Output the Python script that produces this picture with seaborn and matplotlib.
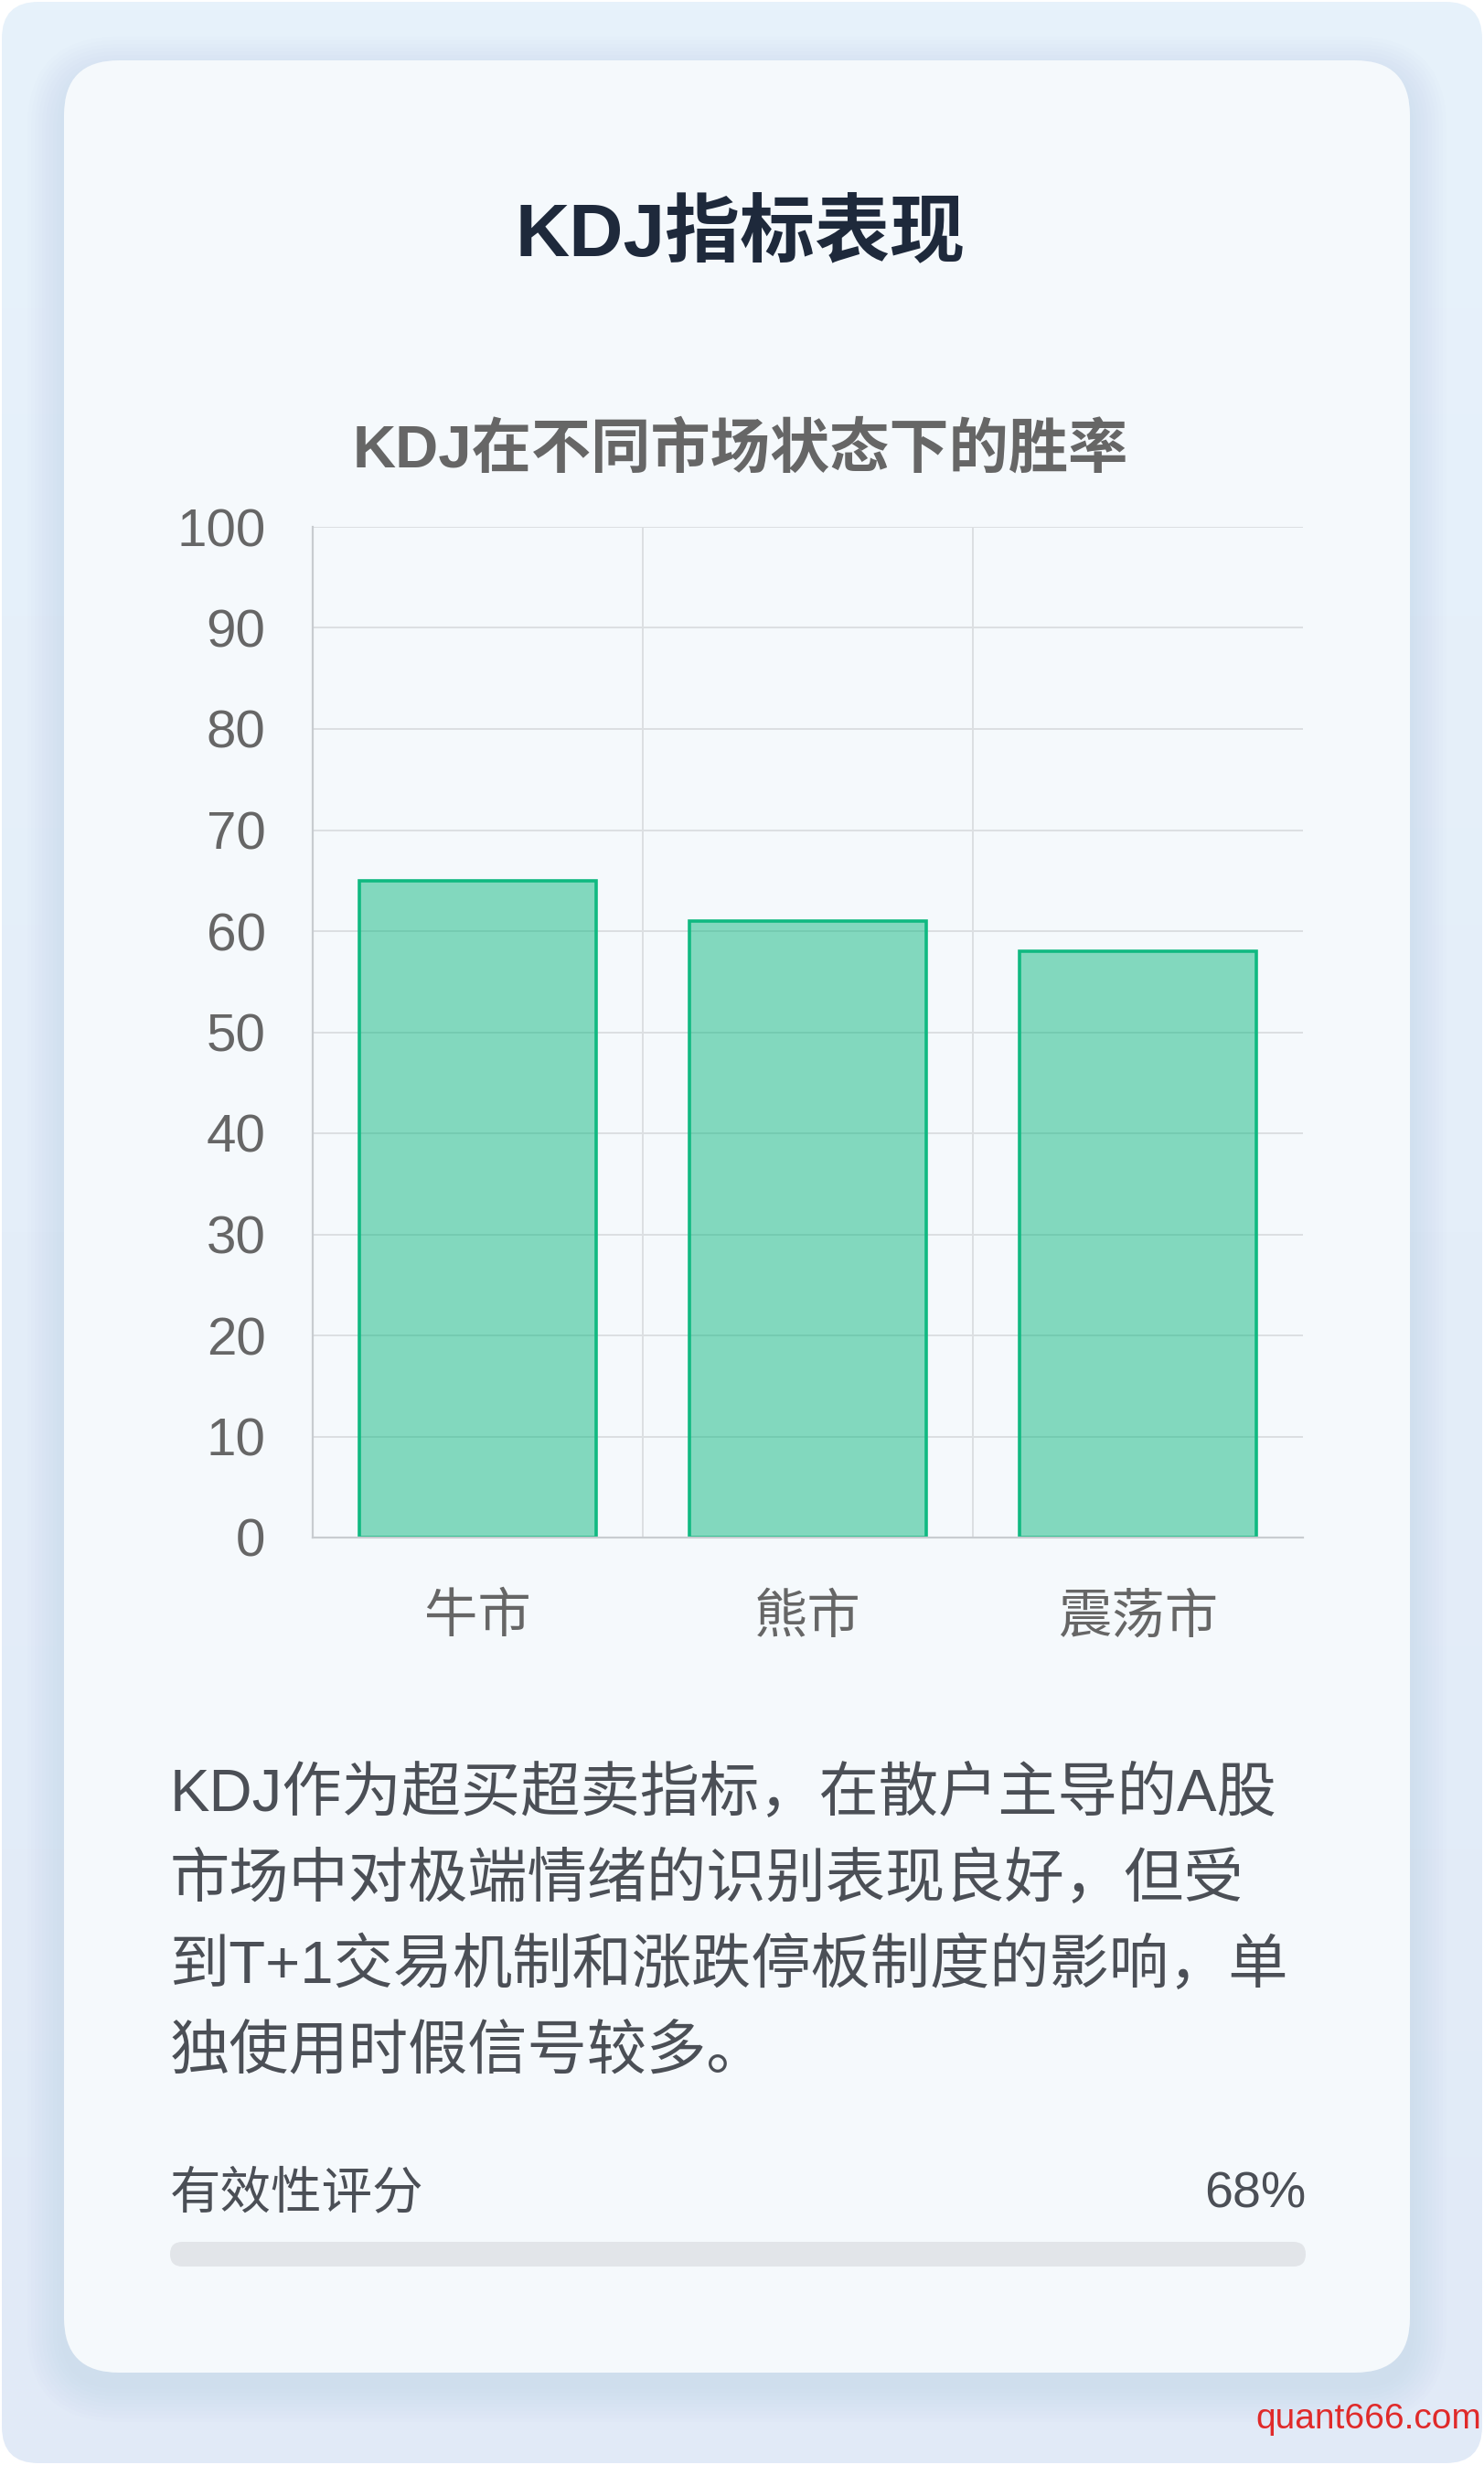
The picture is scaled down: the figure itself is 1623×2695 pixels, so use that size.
import numpy as np
import pandas as pd
import matplotlib
matplotlib.use("Agg")
import matplotlib.pyplot as plt
from matplotlib.patches import FancyBboxPatch
import seaborn as sns

# ---- data ----
markets = ["牛市", "熊市", "震荡市"]
win_rates = [65, 61, 58]
y_ticks = list(range(0, 101, 10))
page_title = "KDJ指标表现"
chart_title = "KDJ在不同市场状态下的胜率"
desc_lines = [
    "KDJ作为超买超卖指标，在散户主导的A股",
    "市场中对极端情绪的识别表现良好，但受",
    "到T+1交易机制和涨跌停板制度的影响，单",
    "独使用时假信号较多。",
]
score_label = "有效性评分"
score = 68
watermark = "quant666.com"

W, H = 1623, 2695
sns.set_style("white")
plt.rcParams["font.family"] = ["Liberation Sans", "Noto Sans CJK SC"]

fig = plt.figure(figsize=(W / 100, H / 100), dpi=100)
fig.patch.set_facecolor("white")

# background layer in pixel coordinates
bg = fig.add_axes([0, 0, 1, 1], zorder=0)
bg.set_xlim(0, W)
bg.set_ylim(H, 0)
bg.axis("off")

outer = FancyBboxPatch((2, 2), W - 4, H - 4, boxstyle="round,pad=0,rounding_size=40",
                       fc="none", ec="none")
bg.add_patch(outer)
grad = np.linspace(0, 1, 256).reshape(-1, 1)
cmap = matplotlib.colors.LinearSegmentedColormap.from_list("bgc", ["#e7f2fb", "#e1eaf7"])
im = bg.imshow(grad, extent=[0, W, H, 0], cmap=cmap, aspect="auto", zorder=0)
im.set_clip_path(outer)

# card shadow
for i in range(10):
    e = 4 + i * 4
    bg.add_patch(FancyBboxPatch((70 - e, 66 - e + 14), 1472 + 2 * e, 2528 + 2 * e,
                                boxstyle=f"round,pad=0,rounding_size={60 + e}",
                                fc="#9fb3d1", ec="none", alpha=0.018, zorder=1))
bg.add_patch(FancyBboxPatch((70, 66), 1472, 2528, boxstyle="round,pad=0,rounding_size=60",
                            fc="#f5f9fc", ec="none", zorder=2))

# titles
bg.text(810, 258, page_title, ha="center", va="center", fontsize=59,
        fontweight="bold", color="#1e293b", zorder=3)
bg.text(810, 492, chart_title, ha="center", va="center", fontsize=47,
        fontweight="bold", color="#666666", zorder=3)

# description
for i, line in enumerate(desc_lines):
    bg.text(186, 1962 + i * 94, line, ha="left", va="center", fontsize=47,
            color="#4b4f56", zorder=3)

bg.text(186, 2400, score_label, ha="left", va="center", fontsize=40, color="#4b4f56", zorder=3)
bg.text(1428, 2400, f"{score}%", ha="right", va="center", fontsize=40, color="#4b4f56", zorder=3)
bg.add_patch(FancyBboxPatch((186, 2451), 1242, 27, boxstyle="round,pad=0,rounding_size=13.5",
                            fc="#e2e5e9", ec="none", zorder=3))

bg.text(1620, 2645, watermark, ha="right", va="center", fontsize=28,
        color="#e02a2a", zorder=3)

# ---- chart ----
grid_c = "#dcdfe2"
axis_c = "#c8ccd0"
ax = fig.add_axes([342 / W, 1 - 1681 / H, 1083 / W, 1105 / H], zorder=1)
ax.set_facecolor("none")

df = pd.DataFrame({"market": markets, "win_rate": win_rates})
sns.barplot(data=df, x="market", y="win_rate", ax=ax, width=0.715)
for p in ax.patches:
    p.set_facecolor((16 / 255, 185 / 255, 129 / 255, 0.5))
    p.set_edgecolor("#10b981")
    p.set_linewidth(2.6)
    p.set_zorder(2)

ax.set_ylim(0, 100)
ax.set_xlim(-0.5, len(markets) - 0.5)
ax.set_yticks(y_ticks)
ax.set_xlabel("")
ax.set_ylabel("")

ax.set_axisbelow(True)
ax.yaxis.grid(True, color=grid_c, lw=1.4)
ax.set_xticks([-0.5, 0.5, 1.5], minor=True)
ax.xaxis.grid(True, which="minor", color=grid_c, lw=1.4)
ax.xaxis.grid(False, which="major")

ax.tick_params(axis="y", length=25, width=1.4, color=grid_c, labelsize=42,
               labelcolor="#666666", pad=12)
ax.tick_params(axis="x", which="minor", length=24, width=1.4, color=grid_c)
ax.tick_params(axis="x", which="major", length=0, labelsize=42,
               labelcolor="#666666", pad=44)

for side in ["top", "right"]:
    ax.spines[side].set_visible(False)
for side in ["left", "bottom"]:
    ax.spines[side].set_color(axis_c)
    ax.spines[side].set_linewidth(1.6)

fig.savefig("out.png", dpi=100, facecolor=fig.get_facecolor())
